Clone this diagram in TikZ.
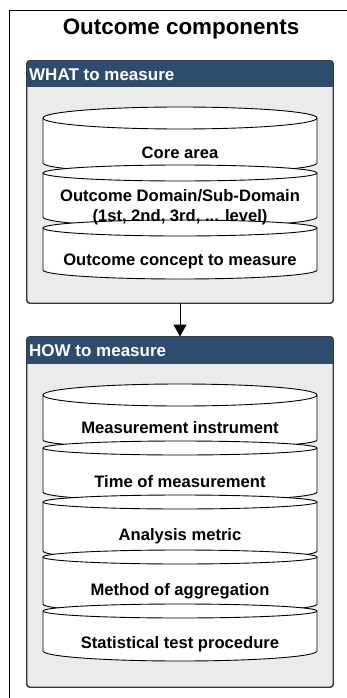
\documentclass[tikz,border=0pt]{standalone}
\usepackage{fontspec}
\setmainfont{Liberation Sans}
\usetikzlibrary{arrows.meta}
\definecolor{panelgray}{HTML}{EBEBEB}
\definecolor{headblue}{HTML}{2E4C6D}
\definecolor{edgegray}{HTML}{3A3A3A}
% drum segment: #1 top-ellipse centre y, #2 bottom y, #3 top radius, #4 bottom radius
\newcommand{\drumpart}[4]{%
  \path[drum] (43,#1) -- (43,#2)
    arc[start angle=180,end angle=0,x radius=137,y radius=#4] -- (317,#1)
    arc[start angle=0,end angle=-180,x radius=137,y radius=#3] -- cycle;
  \draw[drumline] (43,#1) arc[start angle=180,end angle=0,x radius=137,y radius=#3];
}
\tikzset{
  drum/.style={fill=white,draw=black,line width=0.9pt},
  drumline/.style={draw=black,line width=0.9pt},
  panel/.style={fill=panelgray,draw=edgegray,line width=0.9pt,rounded corners=3pt,inner sep=0pt},
  drumtext/.style={font=\bfseries\fontsize{16.6}{20}\selectfont,align=center,inner sep=0pt},
  headtext/.style={font=\bfseries\fontsize{17}{20}\selectfont,text=white,anchor=west,inner sep=0pt},
  flow/.style={draw=black,line width=0.9pt,-{Triangle[width=13pt,length=12pt]}}
}
\begin{document}
\begin{tikzpicture}[x=1pt,y=1pt,yscale=-1]
\useasboundingbox (0,0) rectangle (347,698);
\fill[white] (0,0) rectangle (347,698);
% outer frame, running past the right and bottom edges
\begin{scope}
  \clip (0,0) rectangle (347,698);
  \draw[black,line width=1pt] (9,11) rectangle (420,760);
\end{scope}
\node[font=\bfseries\fontsize{22.4}{26}\selectfont,inner sep=0pt] (title) at (181,29) {Outcome components};

% panels
\node[panel,minimum width=306pt,minimum height=242pt] (what) at (180,182) {};
\node[panel,minimum width=306pt,minimum height=350pt] (how) at (180,512) {};
\begin{scope}
  \clip (27,61) rectangle (333,87);
  \fill[headblue,rounded corners=3pt] (27,61) rectangle (333,100);
\end{scope}
\begin{scope}
  \clip (27,337) rectangle (333,363);
  \fill[headblue,rounded corners=3pt] (27,337) rectangle (333,380);
\end{scope}
\draw[edgegray,line width=0.9pt,rounded corners=3pt] (what.north west) rectangle (what.south east);
\draw[edgegray,line width=0.9pt,rounded corners=3pt] (how.north west) rectangle (how.south east);
\node[headtext] (whathead) at (29,74.5) {WHAT to measure};
\node[headtext] (howhead) at (29,350.5) {HOW to measure};

% WHAT stack
\drumpart{118}{163}{11}{10}
\drumpart{173}{217}{8}{10}
\drumpart{228}{270}{8}{9}
% HOW stack
\drumpart{395}{440}{11}{8}
\drumpart{448}{492}{7}{9}
\drumpart{502}{551}{7}{9}
\drumpart{557}{604}{7}{9}
\drumpart{611}{651}{7}{10}

\node[drumtext] (core) at (180,153) {Core area};
\node[drumtext] (domain) at (180,207) {Outcome Domain/Sub-Domain\\(1st, 2nd, 3rd, ... level)};
\node[drumtext] (concept) at (180,261) {Outcome concept to measure};
\node[drumtext] (instr) at (180,428) {Measurement instrument};
\node[drumtext] (time) at (180,482) {Time of measurement};
\node[drumtext] (metric) at (180,536) {Analysis metric};
\node[drumtext] (aggr) at (180,591) {Method of aggregation};
\node[drumtext] (stat) at (180,644) {Statistical test procedure};

\draw[flow] (what.south) -- (how.north);
\end{tikzpicture}
\end{document}
